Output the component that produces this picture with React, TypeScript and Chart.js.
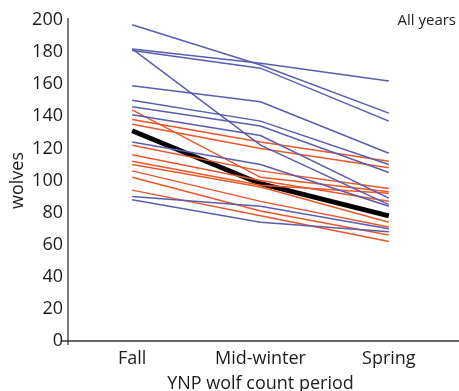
import React, { useEffect, useRef } from "react";
import { Chart, registerables } from "chart.js";

Chart.register(...registerables);

const categories = ["Fall", "Mid-winter", "Spring"];

// Blue lines (earlier years), values: Fall, Mid-winter, Spring
const blueCounts: number[][] = [
  [197, 172, 142],
  [182, 173, 162],
  [181, 170, 137],
  [182, 122, 85],
  [159, 149, 117],
  [150, 137, 110],
  [146, 134, 105],
  [141, 128, 89],
  [124, 110, 84],
  [90, 84, 70],
  [88, 74, 68],
];

// Red lines (later years)
const redCounts: number[][] = [
  [144, 102, 93],
  [138, 124, 112],
  [135, 120, 108],
  [122, 106, 95],
  [116, 100, 87],
  [112, 97, 92],
  [110, 96, 74],
  [106, 87, 71],
  [102, 81, 66],
  [94, 78, 62],
];

// Mean across all years (thick black)
const meanCounts = [131, 98, 78];

const yMin = 0;
const yMax = 200;
const yStep = 20;

const BLUE = "#5a5cae";
const RED = "#e8582a";
const TEXT = "#1f1b1c";
const AXIS = "#3a3536";
const FONT = "'Open Sans', 'DejaVu Sans', sans-serif";

const axisPlugin = {
  id: "axisLines",
  afterDraw(chart: any) {
    const { ctx, chartArea } = chart;
    ctx.save();
    ctx.strokeStyle = AXIS;
    ctx.lineWidth = 1.3;
    ctx.beginPath();
    ctx.moveTo(chartArea.left - 6, chartArea.bottom);
    ctx.lineTo(chart.width, chartArea.bottom);
    ctx.moveTo(chartArea.left, chartArea.top - 2);
    ctx.lineTo(chartArea.left, chartArea.bottom + 4);
    ctx.stroke();
    ctx.fillStyle = TEXT;
    ctx.font = `15px ${FONT}`;
    ctx.textAlign = "right";
    ctx.textBaseline = "middle";
    ctx.fillText("All years", chart.width - 3, chartArea.top + 1);
    ctx.restore();
  },
};

export default function App() {
  const ref = useRef<HTMLCanvasElement | null>(null);

  useEffect(() => {
    if (!ref.current) return;
    const datasets: any[] = [];
    blueCounts.forEach((d, i) =>
      datasets.push({
        label: `blue${i}`,
        data: d,
        borderColor: BLUE,
        borderWidth: 1.5,
        pointRadius: 0,
        fill: false,
        tension: 0,
      })
    );
    redCounts.forEach((d, i) =>
      datasets.push({
        label: `red${i}`,
        data: d,
        borderColor: RED,
        borderWidth: 1.5,
        pointRadius: 0,
        fill: false,
        tension: 0,
      })
    );
    datasets.push({
      label: "mean",
      data: meanCounts,
      borderColor: "#000000",
      borderWidth: 5,
      pointRadius: 0,
      fill: false,
      tension: 0,
    });

    const chart = new Chart(ref.current, {
      type: "line",
      data: { labels: categories, datasets },
      plugins: [axisPlugin],
      options: {
        animation: false,
        responsive: false,
        layout: { padding: { top: 20, right: 6, left: 0, bottom: 0 } },
        plugins: { legend: { display: false }, tooltip: { enabled: false } },
        scales: {
          x: {
            type: "category",
            offset: true,
            grid: { display: false, drawTicks: false },
            border: { display: false },
            ticks: {
              color: TEXT,
              font: { family: FONT, size: 18 },
              padding: 7,
              maxRotation: 0,
            },
            title: {
              display: true,
              text: "YNP wolf count period",
              color: TEXT,
              font: { family: FONT, size: 18, lineHeight: 1.2 },
              padding: { top: 0, bottom: -4 },
            },
            afterFit: (s: any) => {
              s.height = 50;
            },
          },
          y: {
            min: yMin,
            max: yMax,
            grid: { display: false, drawTicks: false },
            border: { display: false },
            ticks: {
              stepSize: yStep,
              color: TEXT,
              font: { family: FONT, size: 18 },
              padding: 5,
            },
            title: {
              display: true,
              text: "wolves",
              color: TEXT,
              font: { family: FONT, size: 18, lineHeight: 1.2 },
              padding: { top: 7, bottom: 0 },
            },
            afterFit: (s: any) => {
              s.width = 68;
            },
          },
        },
      },
    });
    return () => chart.destroy();
  }, []);

  return (
    <div style={{ position: "absolute", left: 0, top: 0, width: 459, height: 391, background: "#fff" }}>
      <canvas ref={ref} width={459} height={391} style={{ width: 459, height: 391 }} />
    </div>
  );
}
